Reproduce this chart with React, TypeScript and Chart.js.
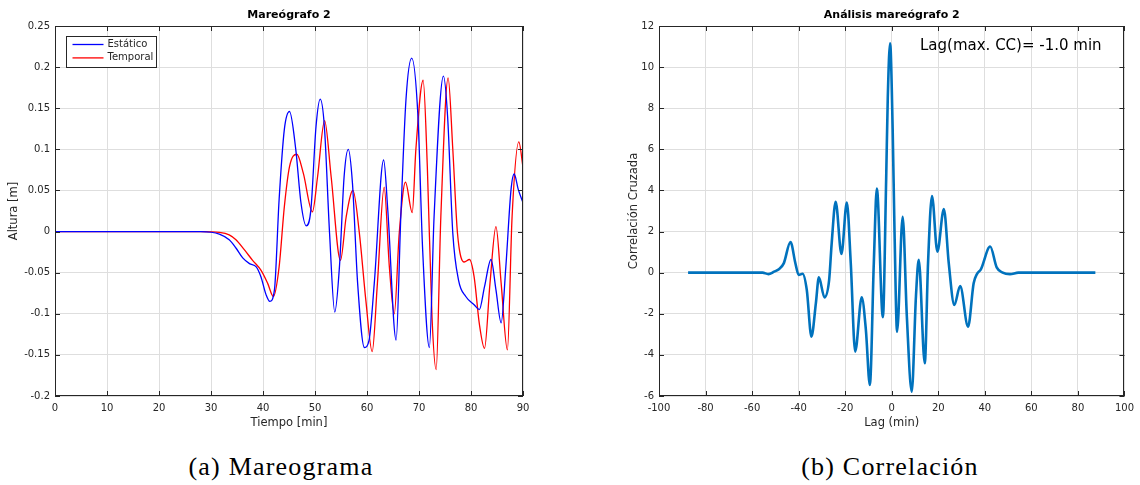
import React, { useEffect, useRef } from "react";
import { Chart, registerables } from "chart.js";

Chart.register(...registerables);

// ---------- Data: Mareógrafo 2 ----------
const tiempoEstatico = [0, 28, 31.6, 33.5, 34.8, 36.1, 37.4, 38.7, 39.6, 40.6, 41.3, 42.2, 43.1, 44.1, 45.1, 46.3, 47.3, 48.3, 49.2, 50.2, 51.0, 51.8, 52.8, 53.8, 54.7, 55.6, 56.4, 57.2, 58.2, 59.5, 60.4, 61.4, 63.2, 64.0, 65.6, 66.5, 67.5, 68.6, 69.8, 70.7, 72.0, 72.9, 74.7, 75.5, 76.5, 77.6, 79.0, 80.6, 81.6, 82.6, 83.85, 84.8, 85.8, 86.7, 87.7, 88.3, 89.1, 90];
const alturaEstatico = [0, 0, -0.003, -0.01, -0.02, -0.032, -0.039, -0.043, -0.055, -0.077, -0.085, -0.071, 0.039, 0.124, 0.146, 0.1, 0.035, 0.007, 0.026, 0.128, 0.161, 0.128, -0.002, -0.098, -0.043, 0.067, 0.1, 0.059, -0.063, -0.141, -0.132, -0.063, 0.087, 0.026, -0.132, 0.018, 0.161, 0.211, 0.14, -0.022, -0.141, 0.018, 0.189, 0.14, -0.002, -0.059, -0.079, -0.089, -0.095, -0.067, -0.034, -0.071, -0.111, -0.043, 0.051, 0.07, 0.051, 0.035];

const tiempoTemporal = [0, 28, 31.6, 33.5, 34.8, 36.4, 38.0, 39.6, 40.9, 42.0, 43.1, 44.1, 45.1, 46.5, 47.75, 49.5, 50.5, 51.85, 53.1, 54.9, 56.0, 57.3, 58.5, 59.8, 61.0, 62.0, 63.3, 64.3, 65.25, 66.2, 67.4, 68.7, 69.4, 70.8, 71.6, 72.5, 73.3, 74.2, 75.6, 76.5, 77.4, 78.7, 79.7, 80.6, 81.6, 82.6, 83.65, 84.8, 85.8, 87.0, 87.9, 89.2, 90];
const alturaTemporal = [0, 0, -0.001, -0.004, -0.01, -0.022, -0.035, -0.047, -0.063, -0.079, -0.043, 0.03, 0.079, 0.094, 0.071, 0.024, 0.067, 0.135, 0.067, -0.035, 0.018, 0.05, 0.0, -0.085, -0.146, -0.063, 0.054, -0.043, -0.1, -0.002, 0.06, 0.023, 0.1, 0.184, 0.079, -0.104, -0.168, 0.018, 0.187, 0.1, -0.002, -0.037, -0.034, -0.055, -0.112, -0.142, -0.063, 0.006, -0.063, -0.144, 0.018, 0.109, 0.078];

const tiempoTicks = [0, 10, 20, 30, 40, 50, 60, 70, 80, 90];
const alturaTicks = [-0.2, -0.15, -0.1, -0.05, 0, 0.05, 0.1, 0.15, 0.2, 0.25];

// ---------- Data: Análisis mareógrafo 2 ----------
const lagMin = [-87.5, -55.5, -53, -50.5, -48.5, -46.4, -43.5, -41.4, -40, -38.3, -36.5, -34.5, -32.6, -31.3, -28.9, -26.9, -25.8, -24.1, -21.6, -19.3, -17.6, -15.7, -12.9, -11.1, -9.4, -7.7, -6.4, -3.8, -2.4, -1.7, -0.7, 0.4, 1.2, 2.3, 4.7, 6.5, 8.6, 10.4, 11.6, 14.2, 15.6, 17.3, 19.6, 22.4, 24.5, 26.9, 29.4, 32.8, 35.2, 36.6, 38.3, 42.3, 45.1, 47.7, 50.8, 54.4, 87.5];
const correlacion = [0, 0, -0.07, 0.05, 0.17, 0.45, 1.49, 0.46, -0.11, -0.05, -0.84, -3.11, -1.49, -0.23, -1.2, -0.36, 1.43, 3.45, 0.91, 3.41, 0.46, -3.84, -1.2, -2.79, -5.46, 0.46, 4.09, -2.17, 4.5, 8.5, 11.16, 7.0, 2.0, -2.87, 2.72, -2.14, -5.79, -1.17, 0.62, -4.41, 0.46, 3.73, 1.02, 3.1, 0.46, -1.57, -0.65, -2.63, -0.52, -0.07, 0.16, 1.27, 0.26, 0, -0.07, 0, 0];

const lagTicks = [-100, -80, -60, -40, -20, 0, 20, 40, 60, 80, 100];
const corrTicks = [-6, -4, -2, 0, 2, 4, 6, 8, 10, 12];

const seriesNames = ["Estático", "Temporal"];
const annotationText = "Lag(max. CC)= -1.0 min";

const AX = "#262626";
const GRID = "#dedede";
const FONT = "'DejaVu Sans', sans-serif";

const fmt = (v: number) => String(Math.round(v * 100) / 100);

const boxPlugin = {
  id: "matlabBox",
  afterDraw(chart: any) {
    const { ctx, chartArea } = chart;
    const { left, right, top, bottom } = chartArea;
    const xs = chart.scales.x;
    const ys = chart.scales.y;
    const tl = 5;
    ctx.save();
    ctx.strokeStyle = AX;
    ctx.lineWidth = 1;
    ctx.beginPath();
    xs.ticks.forEach((t: any) => {
      const p = Math.round(xs.getPixelForValue(t.value)) + 0.5;
      ctx.moveTo(p, bottom);
      ctx.lineTo(p, bottom - tl);
      ctx.moveTo(p, top);
      ctx.lineTo(p, top + tl);
    });
    ys.ticks.forEach((t: any) => {
      const p = Math.round(ys.getPixelForValue(t.value)) + 0.5;
      ctx.moveTo(left, p);
      ctx.lineTo(left + tl, p);
      ctx.moveTo(right, p);
      ctx.lineTo(right - tl, p);
    });
    ctx.stroke();
    ctx.strokeRect(Math.round(left) + 0.5, Math.round(top) + 0.5, Math.round(right - left) - 1, Math.round(bottom - top) - 1);
    ctx.restore();
  },
};

const legendPlugin = {
  id: "insideLegend",
  afterDraw(chart: any) {
    if (chart.options.plugins.insideLegend?.show !== true) return;
    const { ctx, chartArea } = chart;
    const x0 = Math.round(chartArea.left) + 11.5;
    const y0 = Math.round(chartArea.top) + 10.5;
    ctx.save();
    ctx.fillStyle = "#ffffff";
    ctx.fillRect(x0, y0, 90, 31);
    ctx.strokeStyle = AX;
    ctx.lineWidth = 1;
    ctx.strokeRect(x0, y0, 90, 31);
    const rows = chart.data.datasets;
    rows.forEach((ds: any, i: number) => {
      const y = y0 + 8 + i * 13.4;
      ctx.strokeStyle = ds.borderColor;
      ctx.lineWidth = 1.3;
      ctx.beginPath();
      ctx.moveTo(x0 + 6, y);
      ctx.lineTo(x0 + 37, y);
      ctx.stroke();
      ctx.fillStyle = AX;
      ctx.font = `10px ${FONT}`;
      ctx.textBaseline = "middle";
      ctx.textAlign = "left";
      ctx.fillText(ds.label, x0 + 41, y);
    });
    ctx.restore();
  },
};

const annotationPlugin = {
  id: "lagText",
  afterDraw(chart: any) {
    const txt = chart.options.plugins.lagText?.text;
    if (!txt) return;
    const { ctx, chartArea } = chart;
    ctx.save();
    ctx.fillStyle = "#000";
    ctx.font = `15px ${FONT}`;
    ctx.textBaseline = "middle";
    ctx.textAlign = "left";
    ctx.fillText(txt, chartArea.left + 261, chartArea.top + 20);
    ctx.restore();
  },
};

function makeScales(opts: {
  xMin: number; xMax: number; yMin: number; yMax: number;
  xTicks: number[]; yTicks: number[]; xTitle: string; yTitle: string; yWidth: number;
}) {
  return {
    x: {
      type: "linear",
      min: opts.xMin,
      max: opts.xMax,
      afterBuildTicks: (s: any) => { s.ticks = opts.xTicks.map((v) => ({ value: v })); },
      afterFit: (s: any) => { s.height = 44; },
      grid: { color: GRID, lineWidth: 1, drawTicks: false },
      border: { display: false },
      ticks: { color: AX, font: { family: FONT, size: 10 }, padding: 6, maxRotation: 0, autoSkip: false, callback: (v: any) => fmt(Number(v)) },
      title: { display: true, text: opts.xTitle, color: AX, font: { family: FONT, size: 11.5 }, padding: { top: 0, bottom: 10.4 } },
    },
    y: {
      type: "linear",
      min: opts.yMin,
      max: opts.yMax,
      afterBuildTicks: (s: any) => { s.ticks = opts.yTicks.map((v) => ({ value: v })); },
      afterFit: (s: any) => { s.width = opts.yWidth; },
      grid: { color: GRID, lineWidth: 1, drawTicks: false },
      border: { display: false },
      ticks: { color: AX, font: { family: FONT, size: 10 }, padding: 5, autoSkip: false, callback: (v: any) => fmt(Number(v)) },
      title: { display: true, text: opts.yTitle, color: AX, font: { family: FONT, size: 11.5 }, padding: { top: 6.7, bottom: 0 } },
    },
  };
}

function MareogramaChart() {
  const ref = useRef<HTMLCanvasElement | null>(null);
  useEffect(() => {
    if (!ref.current) return;
    const chart = new Chart(ref.current, {
      type: "line",
      data: {
        datasets: [
          {
            label: seriesNames[0],
            data: tiempoEstatico.map((t, i) => ({ x: t, y: alturaEstatico[i] })),
            borderColor: "#0000ff",
            borderWidth: 1.3,
            pointRadius: 0,
            cubicInterpolationMode: "monotone",
            fill: false,
          },
          {
            label: seriesNames[1],
            data: tiempoTemporal.map((t, i) => ({ x: t, y: alturaTemporal[i] })),
            borderColor: "#ff0000",
            borderWidth: 1.3,
            pointRadius: 0,
            cubicInterpolationMode: "monotone",
            fill: false,
          },
        ],
      },
      options: {
        responsive: false,
        animation: false,
        devicePixelRatio: 1,
        layout: { padding: { left: 0, right: 47, top: 0, bottom: 0 } },
        plugins: {
          legend: { display: false },
          tooltip: { enabled: false },
          title: { display: true, text: "Mareógrafo 2", fullSize: false, color: "#000", font: { family: FONT, size: 11, weight: "bold" }, padding: { top: 9, bottom: 3.8 } },
          insideLegend: { show: true },
        } as any,
        scales: makeScales({ xMin: 0, xMax: 90, yMin: -0.2, yMax: 0.25, xTicks: tiempoTicks, yTicks: alturaTicks, xTitle: "Tiempo [min]", yTitle: "Altura [m]", yWidth: 55 }) as any,
      },
      plugins: [boxPlugin, legendPlugin],
    } as any);
    return () => chart.destroy();
  }, []);
  return <canvas ref={ref} width={570} height={440} style={{ position: "absolute", left: 0, top: 0, width: 570, height: 440 }} />;
}

function CorrelacionChart() {
  const ref = useRef<HTMLCanvasElement | null>(null);
  useEffect(() => {
    if (!ref.current) return;
    const chart = new Chart(ref.current, {
      type: "line",
      data: {
        datasets: [
          {
            label: "Correlación",
            data: lagMin.map((l, i) => ({ x: l, y: correlacion[i] })),
            borderColor: "#0072bd",
            borderWidth: 2.6,
            pointRadius: 0,
            cubicInterpolationMode: "monotone",
            fill: false,
          },
        ],
      },
      options: {
        responsive: false,
        animation: false,
        devicePixelRatio: 1,
        layout: { padding: { left: 50, right: 11, top: 0, bottom: 0 } },
        plugins: {
          legend: { display: false },
          tooltip: { enabled: false },
          title: { display: true, text: "Análisis mareógrafo 2", fullSize: false, color: "#000", font: { family: FONT, size: 11, weight: "bold" }, padding: { top: 9, bottom: 3.8 } },
          lagText: { text: annotationText },
        } as any,
        scales: makeScales({ xMin: -100, xMax: 100, yMin: -6, yMax: 12, xTicks: lagTicks, yTicks: corrTicks, xTitle: "Lag (min)", yTitle: "Correlación Cruzada", yWidth: 39 }) as any,
      },
      plugins: [boxPlugin, annotationPlugin],
    } as any);
    return () => chart.destroy();
  }, []);
  return <canvas ref={ref} width={570} height={440} style={{ position: "absolute", left: 570, top: 0, width: 570, height: 440 }} />;
}

const captionStyle: React.CSSProperties = {
  position: "absolute",
  top: 452,
  fontFamily: "'Liberation Serif', serif",
  fontSize: 26,
  letterSpacing: 1.2,
  lineHeight: "30px",
  color: "#000",
  whiteSpace: "nowrap",
  transform: "translateX(-50%)",
};

export default function App() {
  return (
    <div style={{ position: "fixed", left: 0, top: 0, width: 1140, height: 485, background: "#fff", overflow: "hidden" }}>
      <MareogramaChart />
      <CorrelacionChart />
      <div style={{ ...captionStyle, left: 281 }}>(a) Mareograma</div>
      <div style={{ ...captionStyle, left: 890 }}>(b) Correlación</div>
    </div>
  );
}
